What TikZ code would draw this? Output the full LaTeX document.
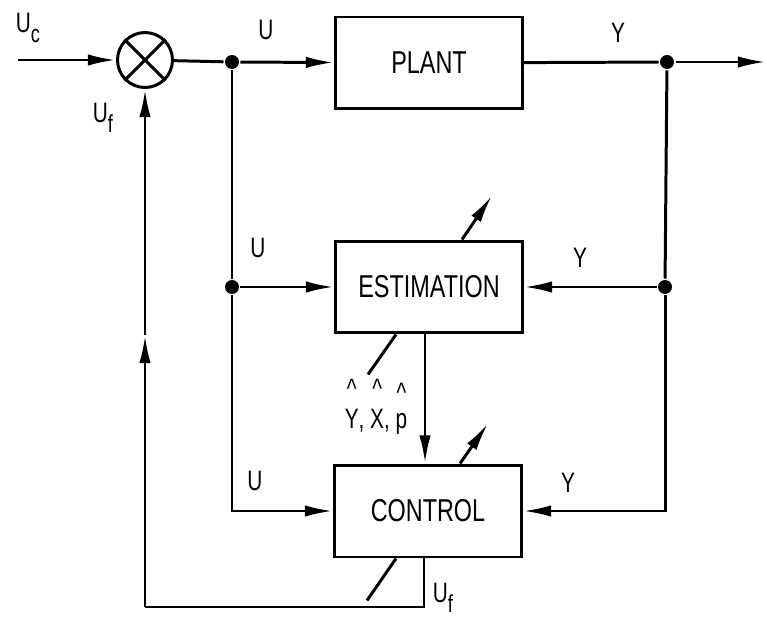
\documentclass[tikz,border=0pt]{standalone}
\usepackage{fontspec}
\setmainfont{Liberation Sans}[FakeStretch=0.74]
\usepackage{tikz}
\usetikzlibrary{arrows.meta, calc}

\newcommand{\sub}[1]{\raisebox{-0.7ex}{\fontsize{14}{15}\selectfont #1}}
\newcommand{\hatted}[1]{\shortstack{\textasciicircum\\[3pt]#1}}

\begin{document}
\begin{tikzpicture}[x=0.02cm, y=-0.02cm, line width=1.7pt,
  blk/.style={draw, fill=white, minimum width=3.74cm, minimum height=1.84cm,
    inner sep=0pt, font=\fontsize{18}{20}\selectfont},
  sumnode/.style={draw, circle, minimum size=1.1cm, inner sep=0pt},
  dot/.style={circle, fill, minimum size=0.28cm, inner sep=0pt},
  lbl/.style={font=\fontsize{16}{18}\selectfont, inner sep=0pt},
  arr/.style={-{Latex[length=16pt, width=6.5pt]}}]
\useasboundingbox (0,0) rectangle (767,621);

%---blocks---
\node[blk] (plant) at (429,63) {PLANT};
\node[blk] (est) at (429,287) {ESTIMATION};
\node[blk] (ctrl) at (428,511) {CONTROL};
\node[sumnode] (sum) at (145,60) {};
\draw (sum.45) -- (sum.225);
\draw (sum.135) -- (sum.-45);

%---junctions---
\node[dot] (ju) at (232,62) {};
\node[dot] (jy) at (667,62) {};
\node[dot] (jue) at (232,287) {};
\node[dot] (jye) at (665,287) {};
\coordinate (uc) at (18,60);
\coordinate (yout) at (766,62);
\coordinate (fb) at (145,607);
\coordinate (fbm) at (145,335);

%---forward path---
\draw[arr] (uc) -- (sum);
\draw (sum) -- (ju);
\draw[arr] (ju) -- (plant);
\draw (plant) -- (jy);
\draw[arr] (jy) -- (yout);

%---U and Y branches---
\draw (ju) -- (jue);
\draw[arr] (jue) -- (est);
\draw[arr] (jue) |- (ctrl);
\draw (jy) -- (jye);
\draw[arr] (jye) -- (est);
\draw[arr] (jye) |- (ctrl);
\draw[arr] (est.south -| 425,0) -- (ctrl.north -| 425,0);

%---feedback---
\draw (ctrl.south -| 424,0) |- (fb);
\draw[arr] (fb) -- (fbm);
\draw[arr] (fbm) -- (sum);

%---adjustment arrows---
\draw ([xshift=-0.66cm]est.south) -- ++(-28,40);
\draw[arr] ([xshift=0.66cm]est.north) -- ++(30,-44);
\draw ([xshift=-0.64cm]ctrl.south) -- ++(-29,42);
\draw[arr] ([xshift=0.64cm]ctrl.north) -- ++(28,-40);

%---labels---
\node[lbl] (luc) at (28,28) {U\sub{c}};
\node[lbl] (luf) at (103,118) {U\sub{f}};
\node[lbl] (lu1) at (266,30) {U};
\node[lbl] (ly1) at (618,33) {Y};
\node[lbl] (lu2) at (258,248) {U};
\node[lbl] (ly2) at (580,258) {Y};
\node[lbl] (lu3) at (255,481) {U};
\node[lbl] (ly3) at (568,483) {Y};
\node[lbl, anchor=base] (lest) at (376,428) {\hatted{Y}, \hatted{X}, \hatted{p}};
\node[lbl] (luf2) at (443,598) {U\sub{f}};

\end{tikzpicture}
\end{document}
